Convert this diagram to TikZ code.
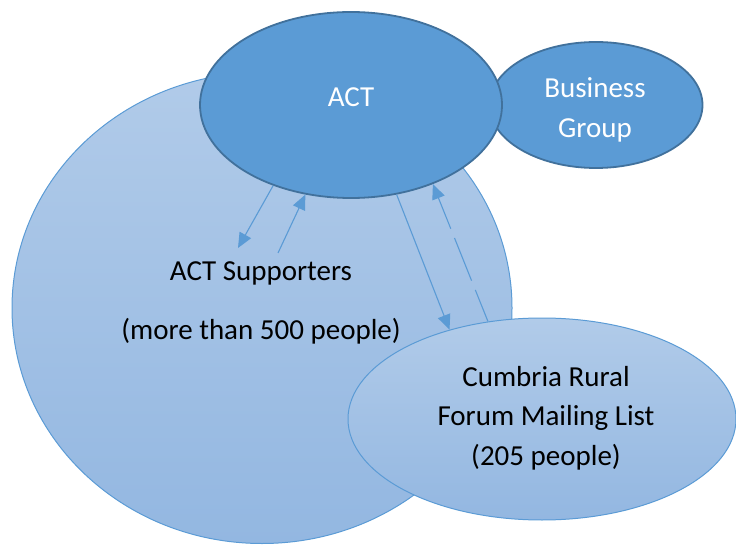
\documentclass[tikz,border=0pt]{standalone}
\usepackage{fontspec}
\setmainfont{Carlito}
\usetikzlibrary{shapes.geometric,arrows.meta}
\definecolor{accent}{HTML}{5B9BD5}
\definecolor{accentdark}{HTML}{41719C}
\definecolor{paletop}{HTML}{B1CBE9}
\definecolor{palebot}{HTML}{93B7E1}
\tikzset{
  bubble/.style={ellipse, inner sep=0pt, draw=accent, line width=1pt,
    top color=paletop, bottom color=palebot},
  hub/.style={ellipse, inner sep=0pt, draw=accentdark, line width=1.8pt, fill=accent},
  lbl/.style={font=\fontsize{29}{39.5}\selectfont, align=center, inner sep=0pt},
  flow/.style={draw=accent, line width=1.1pt,
    -{Triangle[length=15pt,width=13pt]}},
  longdash/.style={dash pattern=on 34pt off 10pt on 46pt off 10pt}
}
\begin{document}
\begin{tikzpicture}[x=1pt,y=-1pt]
  \useasboundingbox (0,0) rectangle (736,545);
  \clip (0,0) rectangle (736,545);

  % outer supporters circle and the mailing-list ellipse
  \node[bubble, minimum width=500pt, minimum height=471pt] (sup) at (262,308) {};
  \node[bubble, minimum width=388pt, minimum height=202pt] (crf) at (542,419) {};

  % business group sits behind the ACT hub
  \node[hub, minimum width=213pt, minimum height=126pt] (bg) at (596,105) {};
  \node[hub, minimum width=302pt, minimum height=186pt] (act) at (351,105) {};

  % labels
  \node[lbl, text=white] (actTxt) at (351,97) {ACT};
  \node[lbl, text=white] (bgTxt) at (595,110) {Business\\Group};
  \node[lbl] (supTxt) at (261,303) {ACT Supporters\\[20pt](more than 500 people)};
  \node[lbl] (crfTxt) at (546,418) {Cumbria Rural\\Forum Mailing List\\(205 people)};

  % connector ends near the supporters label
  \coordinate (supIn) at (238,248);
  \coordinate (supOut) at (278,253);

  % flows between ACT, its supporters and the mailing list
  \draw[flow] (act.226.4) -- (supIn);
  \draw[flow] (supOut) -- (act.243.7);
  \draw[flow] (act.297.6) -- (crf.136.3);
  \draw[flow, longdash] (crf.119.1) -- (act.316.8);
\end{tikzpicture}
\end{document}
